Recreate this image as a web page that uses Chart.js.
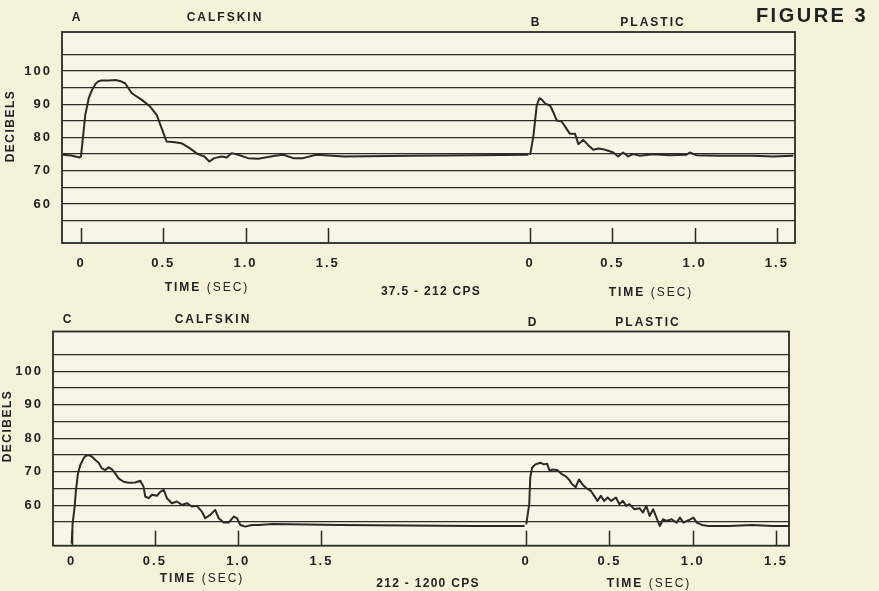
<!DOCTYPE html>
<html>
<head>
<meta charset="utf-8">
<script src="https://cdn.jsdelivr.net/npm/chart.js@4.4.1/dist/chart.umd.min.js"></script>
<style>
  body {
    margin: 0;
    width: 879px;
    height: 591px;
    position: relative;
    overflow: hidden;
    background: #f6f2da;
    font-family: 'Liberation Sans', Arial, sans-serif;
    color: #222;
  }
  canvas { position: absolute; left: 0; }
  .lbl {
    position: absolute;
    transform: translate(-50%, -50%);
    white-space: nowrap;
    font-weight: bold;
    font-size: 12px;
    letter-spacing: 2px;
  }
  .lbl span { font-weight: normal; }
  .vert { transform: translate(-50%, -50%) rotate(-90deg); letter-spacing: 1.5px; }
  .fig { font-size: 20px; letter-spacing: 2.5px; }
</style>
</head>
<body>
<canvas id="lowBand" width="879" height="300" style="top:0"></canvas>
<canvas id="highBand" width="879" height="291" style="top:300px"></canvas>

<!-- panel captions -->
<div class="lbl" style="left:77px; top:17px">A</div>
<div class="lbl" style="left:225px; top:17px">CALFSKIN</div>
<div class="lbl" style="left:536px; top:22px">B</div>
<div class="lbl" style="left:653px; top:22px">PLASTIC</div>
<div class="lbl fig" style="left:812px; top:15px">FIGURE 3</div>
<div class="lbl vert" style="left:10px; top:126px">DECIBELS</div>
<div class="lbl" style="left:207px; top:287px">TIME <span>(SEC)</span></div>
<div class="lbl" style="left:651px; top:292px">TIME <span>(SEC)</span></div>
<div class="lbl" style="left:431px; top:291px; letter-spacing:1.3px">37.5 - 212 CPS</div>

<div class="lbl" style="left:68px; top:319px">C</div>
<div class="lbl" style="left:213px; top:319px">CALFSKIN</div>
<div class="lbl" style="left:533px; top:322px">D</div>
<div class="lbl" style="left:648px; top:322px">PLASTIC</div>
<div class="lbl vert" style="left:7px; top:426px">DECIBELS</div>
<div class="lbl" style="left:202px; top:578px">TIME <span>(SEC)</span></div>
<div class="lbl" style="left:649px; top:583px">TIME <span>(SEC)</span></div>
<div class="lbl" style="left:428px; top:583px; letter-spacing:1.3px">212 - 1200 CPS</div>

<script>
// Time ticks, repeated for each half of a panel
const TIME_TICKS = [0, 0.5, 1.0, 1.5];
const TIME_LABELS = ['0', '0.5', '1.0', '1.5'];
// Decibel grid lines and the ones that get a number
const DB_GRID = [55, 60, 65, 70, 75, 80, 85, 90, 95, 100, 105];
const DB_LABELS = [60, 70, 80, 90, 100];
// Where the plastic trace's zero sits on the shared time axis (sec)
const SECOND_START = 2.73;

// [time (sec), level (dB)] - 37.5-212 cps band
const calfskinLow = [
  [-0.115, 74.8], [-0.06, 74.6], [-0.01, 74.0], [0.0, 74.3], [0.026, 86.8],
  [0.047, 91.8], [0.067, 94.3], [0.09, 96.2], [0.107, 96.9], [0.12, 97.1],
  [0.17, 97.1], [0.21, 97.3], [0.236, 97.0], [0.268, 96.3], [0.309, 93.3],
  [0.37, 91.3], [0.42, 89.3], [0.46, 86.8], [0.49, 82.8], [0.52, 78.8],
  [0.57, 78.6], [0.61, 78.3], [0.66, 76.8], [0.71, 75.0], [0.75, 74.3],
  [0.78, 72.8], [0.81, 73.8], [0.855, 74.3], [0.885, 74.0], [0.915, 75.3],
  [0.955, 74.8], [1.016, 73.8], [1.077, 73.6], [1.18, 74.5], [1.23, 74.8],
  [1.29, 73.8], [1.35, 73.8], [1.43, 74.8], [1.6, 74.3], [2.0, 74.5],
  [2.4, 74.7], [2.72, 74.8]
];
const plasticLow = [
  [0, 74.8], [0.02, 80.5], [0.04, 89.6], [0.056, 91.8], [0.071, 91.4],
  [0.091, 90.2], [0.121, 89.6], [0.141, 87.6], [0.162, 85.1], [0.192, 84.8],
  [0.222, 82.6], [0.242, 81.1], [0.273, 81.1], [0.293, 78.0], [0.323, 79.3],
  [0.353, 77.7], [0.384, 76.3], [0.414, 76.7], [0.442, 76.5], [0.475, 76.0],
  [0.505, 75.5], [0.535, 74.3], [0.565, 75.5], [0.596, 74.3], [0.626, 75.0],
  [0.667, 74.5], [0.747, 75.0], [0.848, 74.7], [0.95, 74.8], [0.97, 75.5],
  [1.01, 74.7], [1.15, 74.5], [1.353, 74.5], [1.475, 74.3], [1.6, 74.5]
];

// [time (sec), level (dB)] - 212-1200 cps band
const calfskinHigh = [
  [0, 48.5], [0.006, 54.6], [0.018, 59.6], [0.026, 64.6], [0.038, 69.5],
  [0.052, 72.0], [0.072, 74.0], [0.082, 74.7], [0.102, 75.0], [0.122, 74.5],
  [0.142, 73.5], [0.162, 72.7], [0.182, 71.0], [0.202, 70.5], [0.222, 71.3],
  [0.242, 70.7], [0.262, 69.5], [0.282, 68.0], [0.312, 67.0], [0.342, 66.7],
  [0.382, 66.8], [0.412, 67.3], [0.432, 65.5], [0.442, 62.6], [0.462, 62.1],
  [0.482, 63.1], [0.512, 62.8], [0.532, 64.0], [0.553, 64.6], [0.572, 62.1],
  [0.602, 60.6], [0.632, 61.1], [0.662, 60.1], [0.692, 60.6], [0.722, 59.6],
  [0.752, 59.8], [0.782, 58.1], [0.802, 56.1], [0.832, 57.1], [0.862, 58.6],
  [0.883, 56.1], [0.913, 54.8], [0.943, 54.8], [0.973, 56.6], [0.993, 56.1],
  [1.013, 54.1], [1.043, 53.6], [1.083, 54.1], [1.123, 54.1], [1.209, 54.4],
  [1.611, 54.1], [2.012, 53.9], [2.412, 53.8], [2.72, 53.8]
];
const plasticHigh = [
  [0, 54.3], [0.018, 60.3], [0.024, 68.2], [0.035, 71.2], [0.055, 72.2],
  [0.085, 72.7], [0.105, 72.2], [0.125, 72.4], [0.141, 70.2], [0.156, 70.7],
  [0.186, 70.5], [0.216, 69.2], [0.236, 68.7], [0.256, 67.7], [0.277, 66.2],
  [0.297, 65.4], [0.317, 67.7], [0.338, 66.2], [0.358, 65.2], [0.388, 64.3],
  [0.408, 62.8], [0.428, 61.3], [0.448, 62.8], [0.468, 61.3], [0.489, 62.3],
  [0.509, 61.3], [0.539, 62.3], [0.559, 60.3], [0.58, 61.3], [0.6, 59.8],
  [0.62, 60.3], [0.65, 58.8], [0.68, 59.1], [0.701, 57.8], [0.721, 59.8],
  [0.741, 56.8], [0.762, 58.8], [0.782, 56.3], [0.802, 53.8], [0.822, 55.8],
  [0.842, 55.3], [0.873, 55.8], [0.903, 54.8], [0.923, 56.3], [0.944, 54.8],
  [0.974, 55.5], [1.004, 56.3], [1.024, 54.8], [1.055, 54.1], [1.095, 53.8],
  [1.216, 53.8], [1.358, 54.1], [1.479, 53.8], [1.59, 53.8]
];

const INK = '#2b2a26';
const tickFont = { family: "'Liberation Sans', Arial, sans-serif", size: 13, weight: 'bold' };

// paper fill, short inward tick marks and the box around the plot
const framePlugin = {
  id: 'frame',
  beforeDraw(chart) {
    const { ctx, chartArea: a } = chart;
    ctx.letterSpacing = '2px';
    ctx.save();
    ctx.fillStyle = '#f7f5e7';
    ctx.fillRect(a.left, a.top, a.right - a.left, a.bottom - a.top);
    ctx.restore();
  },
  afterDatasetsDraw(chart) {
    const { ctx, chartArea: a, scales: { x } } = chart;
    ctx.save();
    ctx.strokeStyle = INK;
    ctx.lineWidth = 1.5;
    x.ticks.forEach(t => {
      const px = Math.round(x.getPixelForValue(t.value)) + 0.5;
      ctx.beginPath();
      ctx.moveTo(px, a.bottom);
      ctx.lineTo(px, a.bottom - 15);
      ctx.stroke();
    });
    ctx.lineWidth = 1.8;
    ctx.strokeRect(a.left, a.top, a.right - a.left, a.bottom - a.top);
    ctx.restore();
  }
};

function toPoints(trace, shift) {
  return trace.map(([t, db]) => ({ x: t + shift, y: db }));
}

function buildPanel(id, first, second, box) {
  const xTicks = [...TIME_TICKS, ...TIME_TICKS.map(t => t + SECOND_START)];
  return new Chart(document.getElementById(id), {
    type: 'line',
    data: {
      datasets: [
        { data: toPoints(first, 0) },
        { data: toPoints(second, SECOND_START) }
      ]
    },
    options: {
      responsive: false,
      animation: false,
      devicePixelRatio: 1,
      layout: { padding: { left: 0, top: box.top, right: box.right, bottom: 0 } },
      plugins: { legend: { display: false }, tooltip: { enabled: false } },
      elements: {
        point: { radius: 0 },
        line: { tension: 0, borderWidth: 2, borderColor: INK, borderJoinStyle: 'round' }
      },
      scales: {
        x: {
          type: 'linear',
          min: box.xMin,
          max: box.xMax,
          afterBuildTicks: s => { s.ticks = xTicks.map(v => ({ value: v })); },
          afterFit: s => { s.height = box.axisHeight; },
          grid: { display: false, drawTicks: false },
          border: { display: false },
          ticks: {
            autoSkip: false,
            maxRotation: 0,
            padding: box.labelPad,
            color: '#222',
            font: tickFont,
            callback: (v, i) => TIME_LABELS[i % TIME_LABELS.length]
          }
        },
        y: {
          min: box.yMin,
          max: box.yMax,
          afterBuildTicks: s => { s.ticks = DB_GRID.map(v => ({ value: v })); },
          afterFit: s => { s.width = box.left; },
          grid: { color: '#2e2d28', lineWidth: 1.3, drawTicks: false },
          border: { display: false },
          ticks: {
            padding: 10,
            color: '#222',
            font: tickFont,
            callback: v => DB_LABELS.includes(v) ? String(v) : ''
          }
        }
      }
    },
    plugins: [framePlugin]
  });
}

buildPanel('lowBand', calfskinLow, plasticLow, {
  top: 32, right: 84, left: 62, axisHeight: 57, labelPad: 13,
  xMin: -0.1155, xMax: 4.34, yMin: 48.3, yMax: 111.7
});
buildPanel('highBand', calfskinHigh, plasticHigh, {
  top: 31.5, right: 90, left: 53, axisHeight: 45.3, labelPad: 8,
  xMin: -0.112, xMax: 4.308, yMin: 47.9, yMax: 111.9
});
</script>
</body>
</html>
